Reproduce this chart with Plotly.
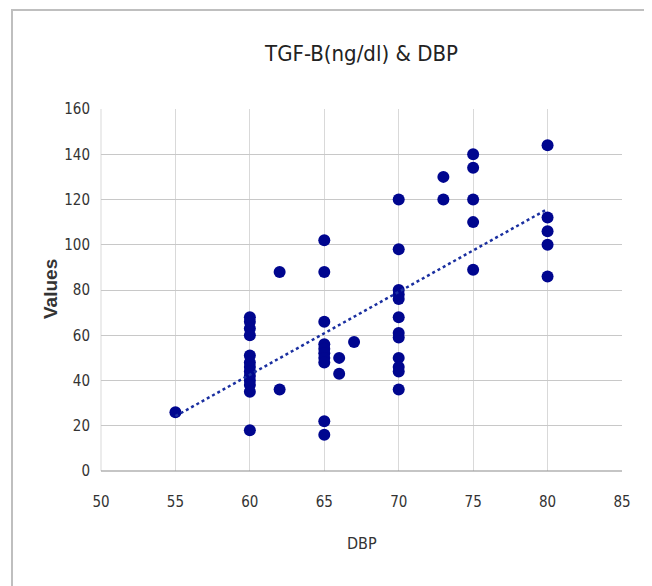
import numpy as np
import plotly.graph_objects as go

# ---- data ----
dbp = [55,
       60, 60, 60, 60, 60, 60, 60, 60, 60, 60, 60, 60, 60,
       62, 62,
       65, 65, 65, 65, 65, 65, 65, 65, 65, 65,
       66, 66,
       67,
       70, 70, 70, 70, 70, 70, 70, 70, 70, 70, 70, 70,
       73, 73,
       75, 75, 75, 75, 75,
       80, 80, 80, 80, 80]
tgf = [26,
       68, 66, 63, 60, 51, 48, 46, 44, 42, 40, 38, 35, 18,
       88, 36,
       102, 88, 66, 56, 54, 52, 50, 48, 22, 16,
       50, 43,
       57,
       120, 98, 80, 78, 76, 68, 61, 59, 50, 46, 44, 36,
       130, 120,
       140, 134, 120, 110, 89,
       144, 112, 106, 100, 86]

x_ticks = [50, 55, 60, 65, 70, 75, 80, 85]
y_ticks = [0, 20, 40, 60, 80, 100, 120, 140, 160]

title_text = "TGF-B(ng/dl) & DBP"
x_title = "DBP"
y_title = "Values"

# linear trendline over the data range
xa = np.array(dbp, dtype=float)
ya = np.array(tgf, dtype=float)
slope, intercept = np.polyfit(xa, ya, 1)
tx = np.array([xa.min(), xa.max()])
ty = slope * tx + intercept

# figure geometry (page has an 8px body margin)
W, H = 644, 578
L, T = 93, 101
PW, PH = 521, 362
R = W - L - PW
B = H - T - PH

def px_x(fx):
    return (fx - L) / PW

def px_y(fy):
    return (T + PH - fy) / PH

narrow = "DejaVu Sans Condensed, Liberation Sans Narrow, Arial Narrow, sans-serif"

fig = go.Figure()
fig.add_trace(go.Scatter(
    x=dbp, y=tgf, mode="markers",
    marker=dict(color="#00068f", size=12, line=dict(width=0)),
    showlegend=False, hoverinfo="x+y"))
fig.add_trace(go.Scatter(
    x=tx, y=ty, mode="lines",
    line=dict(color="#1a2fa0", width=2.5, dash="dot"),
    showlegend=False, hoverinfo="skip"))

tick_font = dict(family=narrow, size=15, color="#333333")

fig.update_layout(
    width=W, height=H,
    paper_bgcolor="white", plot_bgcolor="white",
    margin=dict(l=L, r=R, t=T, b=B, autoexpand=False),
    title=dict(text=title_text, x=0.5, xref="paper", xanchor="center",
               y=1 - 45 / H, yref="container", yanchor="middle",
               font=dict(family=narrow, size=22, color="#222222")),
    xaxis=dict(range=[50, 85], tickvals=x_ticks, ticktext=[str(v) for v in x_ticks],
               showgrid=True, gridcolor="#d9d9d9", gridwidth=1,
               zeroline=False, showline=False, ticks="",
               tickfont=tick_font, ticklabelstandoff=20),
    yaxis=dict(range=[0, 160], tickvals=y_ticks, ticktext=[str(v) for v in y_ticks],
               showgrid=True, gridcolor="#c8c8c8", gridwidth=1,
               zeroline=False, showline=False, ticks="",
               tickfont=tick_font, ticklabelstandoff=10),
    annotations=[
        dict(text=x_title, xref="paper", yref="paper", x=px_x(354), y=px_y(535),
             showarrow=False, xanchor="center", yanchor="middle",
             font=dict(family=narrow, size=16, color="#333333")),
        dict(text="<b>" + y_title + "</b>", xref="paper", yref="paper", x=px_x(42), y=px_y(281),
             showarrow=False, xanchor="center", yanchor="middle", textangle=-90,
             font=dict(family="Liberation Sans, Arial, sans-serif", size=19, color="#333333")),
    ],
    shapes=[
        dict(type="line", xref="paper", yref="paper", x0=0, x1=0, y0=0, y1=1,
             line=dict(color="#d9d9d9", width=1), layer="below"),
        dict(type="line", xref="paper", yref="paper", x0=0, x1=1, y0=0, y1=0,
             line=dict(color="#8c8c8c", width=1.2)),
        dict(type="rect", xref="paper", yref="paper",
             x0=px_x(4), x1=px_x(638), y0=px_y(H + 20), y1=px_y(2),
             line=dict(color="#bfbfbf", width=2), fillcolor="rgba(0,0,0,0)", layer="below"),
    ],
)

fig.write_html("out.html")
